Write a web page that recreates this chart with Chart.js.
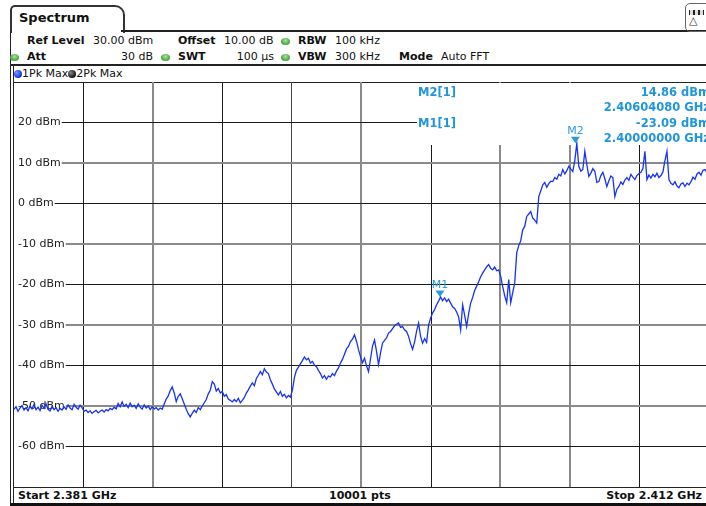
<!DOCTYPE html>
<html>
<head>
<meta charset="utf-8">
<script src="https://cdn.jsdelivr.net/npm/chart.js@4"></script>
<style>
  html, body { margin: 0; padding: 0; }
  body {
    width: 706px; height: 506px; overflow: hidden; position: relative; background: #fff;
    font-family: "DejaVu Sans", Verdana, sans-serif; font-size: 11px; color: #111;
  }
  .t { position: absolute; white-space: nowrap; line-height: 14px; }
  .b { font-weight: bold; }
  .ln { position: absolute; background: #222; }
  .led {
    position: absolute; width: 9px; height: 7px; border-radius: 50%;
    background: radial-gradient(circle at 50% 35%, #a8e496, #45a43f 70%);
  }
  .mk { color: #2196dc; font-weight: bold; font-size: 11.5px; }
  #legend { position: absolute; left: 14px; top: 67px; display: flex; align-items: center; line-height: 14px; }
  .dot { width: 8px; height: 8px; border-radius: 50%; display: inline-block; }
  #plot { position: absolute; left: 14px; top: 82px; }
</style>
</head>
<body>

<!-- window tab and header -->
<div style="position:absolute;left:10px;top:5px;width:111px;height:26px;border:2px solid #333;border-bottom:none;border-radius:5px 10px 0 0;"></div>
<div class="t b" style="left:19px;top:11px;font-size:13px;">Spectrum</div>
<div class="ln" style="left:121px;top:30px;width:585px;height:2px;"></div>
<div style="position:absolute;left:685px;top:3px;width:24px;height:27px;border:1px solid #666;border-radius:5px;">
  <div style="position:absolute;left:3px;top:6px;width:15px;height:5px;background:repeating-linear-gradient(90deg,#222 0 1px,#ddd 1px 4px,#222 4px 5px);"></div>
  <div style="position:absolute;left:3px;top:11px;font-size:11px;line-height:12px;color:#333;">△</div>
</div>

<!-- frame lines -->
<div class="ln" style="left:10px;top:31px;width:1px;height:474px;"></div>
<div class="ln" style="left:13px;top:65px;width:1px;height:439px;"></div>
<div class="ln" style="left:10px;top:64px;width:696px;height:2px;"></div>
<div class="ln" style="left:13px;top:82px;width:693px;height:1px;"></div>
<div class="ln" style="left:13px;top:487px;width:693px;height:1px;"></div>
<div class="ln" style="left:10px;top:503px;width:696px;height:3px;background:#111;"></div>

<!-- settings rows -->
<div class="t b" style="left:27px;top:34px;">Ref Level</div>
<div class="t" style="left:93px;top:34px;">30.00 dBm</div>
<div class="t b" style="left:178px;top:34px;">Offset</div>
<div class="t" style="left:224px;top:34px;">10.00 dB</div>
<div class="led" style="left:281px;top:38px;"></div>
<div class="t b" style="left:298px;top:34px;">RBW</div>
<div class="t" style="left:335px;top:34px;">100 kHz</div>

<div class="led" style="left:10px;top:54px;"></div>
<div class="t b" style="left:27px;top:50px;">Att</div>
<div class="t" style="right:553px;top:50px;">30 dB</div>
<div class="led" style="left:161px;top:54px;"></div>
<div class="t b" style="left:178px;top:50px;">SWT</div>
<div class="t" style="right:432px;top:50px;">100 µs</div>
<div class="led" style="left:281px;top:54px;"></div>
<div class="t b" style="left:298px;top:50px;">VBW</div>
<div class="t" style="left:335px;top:50px;">300 kHz</div>
<div class="t b" style="left:399px;top:50px;">Mode</div>
<div class="t" style="left:441px;top:50px;">Auto FFT</div>

<!-- trace legend -->
<div id="legend">
  <span class="dot" style="background:radial-gradient(circle at 35% 35%,#7a9aff,#1232d8 70%);"></span><span>1Pk Max</span>
  <span class="dot" style="background:radial-gradient(circle at 35% 35%,#888,#111 70%);"></span><span>2Pk Max</span>
</div>

<canvas id="plot" width="695" height="405"></canvas>

<!-- marker readout -->
<div class="t mk" style="left:418px;top:85px;">M2[1]</div>
<div class="t mk" id="m2lvl" style="right:-4px;top:85px;"></div>
<div class="t mk" id="m2frq" style="right:-4px;top:100px;"></div>
<div class="t mk" style="left:418px;top:116px;">M1[1]</div>
<div class="t mk" id="m1lvl" style="right:-4px;top:116px;"></div>
<div class="t mk" id="m1frq" style="right:-4px;top:131px;"></div>

<!-- sweep footer -->
<div class="t b" style="left:18px;top:489px;">Start 2.381 GHz</div>
<div class="t b" style="left:329px;top:489px;">10001 pts</div>
<div class="t b" style="right:4px;top:489px;">Stop 2.412 GHz</div>

<script>
const START_GHZ = 2.381;
const STOP_GHZ = 2.412;
const REF_LEVEL = 30;
const BOTTOM_LEVEL = -70;

const yTicksDbm = [20, 10, 0, -10, -20, -30, -40, -50, -60];

// 1Pk Max trace, evenly spaced across the sweep
const traceDbm = [
  -50.8, -50.2, -51.3, -50.5, -49.9, -51.0, -50.4, -51.2, -50.0, -50.7, -49.6, -50.9, -50.3, -51.1, -49.8, -50.6, -49.5, -50.8,
  -51.2, -50.1, -50.9, -50.4, -51.3, -50.6, -51.0, -50.2, -50.8, -49.7, -50.5, -50.9, -49.6, -50.3, -50.8, -49.8, -50.4,
  -51.3, -51.0, -51.6, -51.2, -51.8, -51.4, -51.1, -51.7, -51.3, -51.0, -51.5, -50.9, -51.2, -50.6, -50.9, -50.3, -50.7,
  -49.4, -50.2, -49.0, -50.1, -49.6, -50.4, -49.3, -50.2, -49.8, -50.6, -49.5, -50.3, -50.8, -49.7, -50.5, -50.0, -50.9, -50.2,
  -50.7, -50.4, -51.0, -50.5, -50.8, -49.5, -48.3, -47.5, -46.2, -45.3, -46.8, -48.9, -47.6, -47.0, -48.2, -49.5, -50.8,
  -51.9, -52.7, -51.8, -51.0, -51.6, -50.4, -50.9, -50.0, -49.2, -48.4, -47.0, -46.1, -44.0, -44.6, -46.3, -45.7, -46.8, -46.4,
  -47.6, -47.2, -48.3, -48.6, -49.0, -48.4, -48.9, -48.1, -49.2, -48.6, -47.9, -46.8, -46.0, -45.1, -44.3, -45.0, -43.2,
  -42.4, -41.5, -42.3, -40.8, -41.6, -42.0, -43.5, -44.6, -45.8, -46.5, -47.3, -46.4, -47.6, -47.1, -48.0, -47.4, -47.8, -46.1,
  -43.0, -41.2, -40.4, -39.6, -38.8, -37.9, -38.6, -38.2, -39.4, -39.0, -39.9, -40.3, -41.2, -42.0, -43.1, -42.5, -43.4,
  -42.6, -42.8, -42.0, -42.5, -41.4, -40.6, -39.4, -38.5, -37.2, -35.9, -35.3, -34.1, -33.5, -32.4, -34.0, -36.1, -37.8, -39.3,
  -38.2, -40.1, -41.5, -38.4, -35.2, -33.7, -36.5, -39.8, -36.9, -34.5, -33.8, -33.2, -32.0, -31.6, -30.9, -30.2, -29.8,
  -29.5, -30.6, -30.4, -31.2, -31.6, -32.8, -34.6, -36.0, -34.2, -31.5, -29.5, -32.8, -34.5, -33.4, -34.3, -30.0, -28.3, -27.0,
  -26.2, -25.0, -24.1, -23.09, -24.0, -23.3, -24.2, -23.6, -24.6, -25.5, -25.9, -26.8, -28.0, -31.2, -25.0, -27.6, -30.4,
  -27.2, -24.6, -23.2, -21.5, -20.4, -19.3, -18.1, -17.2, -16.4, -15.6, -15.1, -16.0, -16.4, -15.7, -16.6, -16.4, -18.0, -20.5,
  -22.8, -24.5, -18.8, -24.5, -22.0, -19.6, -12.2, -10.4, -9.2, -6.5, -5.6, -3.2, -2.6, -2.0, -3.6, -4.1, -4.8,
  1.7, 3.1, 4.6, 5.2, 4.0, 4.9, 5.5, 5.4, 6.4, 6.0, 7.2, 6.8, 8.4, 7.3, 8.1, 9.2, 8.5, 7.9,
  10.6, 14.86, 9.2, 8.0, 8.4, 12.9, 9.6, 6.7, 7.5, 8.6, 7.9, 5.2, 5.4, 6.9, 7.7, 6.1, 4.2,
  5.6, 6.8, 6.4, 1.7, 3.5, 4.2, 5.3, 4.7, 5.8, 6.4, 5.7, 7.2, 6.5, 5.9, 6.9, 7.4, 7.7, 8.6,
  12.9, 5.9, 7.0, 6.3, 7.2, 6.6, 7.5, 6.4, 6.9, 7.8, 10.6, 12.9, 5.9, 5.0, 4.6, 5.4, 4.3,
  3.9, 4.8, 5.1, 4.2, 5.0, 4.6, 5.4, 6.5, 6.0, 7.3, 7.7, 7.0, 8.2, 8.4, 7.6, 8.3
];

const markerNames = ['M1', 'M2'];
const markerFreqGHz = [2.40000000, 2.40604080];
const markerLevelDbm = [-23.09, 14.86];

const TRACE_COLOR = '#1733ee';
const MARKER_COLOR = '#2a9be0';

Chart.defaults.font.family = '"DejaVu Sans", Verdana, sans-serif';

// marker readout texts
document.getElementById('m1lvl').textContent = markerLevelDbm[0].toFixed(2) + ' dBm';
document.getElementById('m1frq').textContent = markerFreqGHz[0].toFixed(8) + ' GHz';
document.getElementById('m2lvl').textContent = markerLevelDbm[1].toFixed(2) + ' dBm';
document.getElementById('m2frq').textContent = markerFreqGHz[1].toFixed(8) + ' GHz';

var sweepStep = (STOP_GHZ - START_GHZ) / (traceDbm.length - 1);
var tracePoints = traceDbm.map((v, i) => ({ x: START_GHZ + i * sweepStep, y: v }));

// vertical divisions: 'B' dark, 'G' light, 'M' in between
var xGridStyle = ['', 'B', 'G', 'B', 'M', 'G', 'B', 'G', 'G', 'B', ''];

var markerPlugin = {
  id: 'markers',
  beforeDatasetsDraw(chart) {
    // blank panel behind the marker readout
    const { ctx, chartArea } = chart;
    ctx.save();
    ctx.fillStyle = '#fff';
    ctx.fillRect(chartArea.left + 403, chartArea.top + 1, chartArea.right - chartArea.left - 403, 62);
    ctx.restore();
  },
  afterDatasetsDraw(chart) {
    const { ctx } = chart;
    const xs = chart.scales.x, ys = chart.scales.y;
    ctx.save();
    ctx.fillStyle = MARKER_COLOR;
    ctx.font = '11px "DejaVu Sans"';
    ctx.textAlign = 'center';
    ctx.textBaseline = 'alphabetic';
    markerNames.forEach((name, i) => {
      const px = xs.getPixelForValue(markerFreqGHz[i]);
      const py = ys.getPixelForValue(markerLevelDbm[i]);
      ctx.beginPath();
      ctx.moveTo(px - 4.5, py - 6.5);
      ctx.lineTo(px + 4.5, py - 6.5);
      ctx.lineTo(px, py);
      ctx.closePath();
      ctx.fill();
      ctx.fillText(name, px, py - 9);
    });
    ctx.restore();
  }
};

var spectrumChart = new Chart(document.getElementById('plot'), {
  type: 'line',
  data: {
    datasets: [{
      label: '1Pk Max',
      data: tracePoints,
      borderColor: TRACE_COLOR,
      borderWidth: 1.3,
      pointRadius: 0,
      tension: 0,
      fill: false
    }]
  },
  options: {
    responsive: false,
    animation: false,
    events: [],
    layout: { padding: 0 },
    plugins: { legend: { display: false }, tooltip: { enabled: false } },
    scales: {
      x: {
        type: 'linear',
        min: START_GHZ,
        max: STOP_GHZ,
        afterFit: (s) => { s.height = 0; s.paddingLeft = 0; s.paddingRight = 0; },
        ticks: { display: false, count: 11 },
        border: { display: false },
        grid: {
          drawTicks: false,
          color: (c) => {
            const k = xGridStyle[c.index];
            if (k === 'B') return '#1a1a1a';
            if (k === 'M') return '#444';
            if (k === 'G') return '#8a8a8a';
            return 'rgba(0,0,0,0)';
          },
          lineWidth: (c) => (xGridStyle[c.index] === 'G' ? 2 : 1)
        }
      },
      y: {
        min: BOTTOM_LEVEL,
        max: REF_LEVEL,
        // labels sit inside the plot, so the axis takes no room
        afterFit: (s) => { s.width = 0; s.paddingTop = 0; s.paddingBottom = 0; },
        afterBuildTicks: (s) => {
          s.ticks = [REF_LEVEL].concat(yTicksDbm, [BOTTOM_LEVEL]).map(v => ({ value: v }));
        },
        border: { display: false },
        ticks: {
          mirror: true,
          padding: 4,
          color: '#222',
          font: { size: 11 },
          callback: (v) => (yTicksDbm.includes(v) ? v + ' dBm' : ''),
          showLabelBackdrop: true,
          backdropColor: (c) => (yTicksDbm.includes(c.tick.value) ? '#fff' : 'rgba(0,0,0,0)'),
          backdropPadding: { left: 4, right: 1, top: 0, bottom: 0 }
        },
        grid: {
          drawTicks: false,
          color: (c) => {
            const v = c.tick.value;
            if (!yTicksDbm.includes(v)) return 'rgba(0,0,0,0)';
            return (v % 20 === 0) ? '#1a1a1a' : '#8a8a8a';
          },
          lineWidth: (c) => (Math.abs(c.tick.value % 20) === 10 ? 2 : 1)
        }
      }
    }
  },
  plugins: [markerPlugin]
});
</script>
</body>
</html>
